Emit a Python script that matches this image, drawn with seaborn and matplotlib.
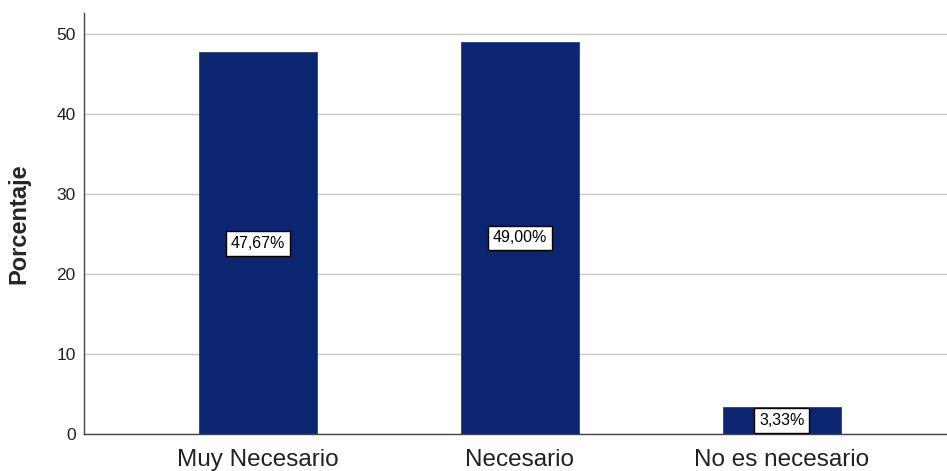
import matplotlib.pyplot as plt
import pandas as pd
import seaborn as sns

# Data
categories = ['Muy Necesario', 'Necesario', 'No es necesario']
percentages = [47.67, 49.00, 3.33]

df = pd.DataFrame({'categoria': categories, 'porcentaje': percentages})

sns.set_theme(style='white')
plt.rcParams['font.family'] = ['Liberation Sans', 'DejaVu Sans']

fig = plt.figure(figsize=(9.47, 4.71), dpi=100)
ax = fig.add_axes([0.0887, 0.0786, 0.9113, 0.8938])

ax.yaxis.grid(True, color='#c8c8c8', linewidth=1)
ax.set_axisbelow(True)

sns.barplot(data=df, x='categoria', y='porcentaje', color='#0b2570',
            saturation=1, width=0.45, edgecolor='#2a3f80', linewidth=0.6,
            ax=ax)

# value labels in the middle of each bar
for i, v in enumerate(percentages):
    txt = f'{v:.2f}'.replace('.', ',') + '%'
    ax.text(i, v / 2, txt, ha='center', va='center', fontsize=11.5,
            color='black',
            bbox=dict(boxstyle='square,pad=0.3', facecolor='white',
                      edgecolor='black', linewidth=1))

ax.set_xlim(-0.664, 2.63)
ax.set_ylim(0, 52.6)
ax.set_yticks([0, 10, 20, 30, 40, 50])
ax.set_xlabel('')
ax.set_ylabel('Porcentaje', fontsize=17, fontweight='bold', labelpad=19)
ax.tick_params(axis='y', labelsize=12.5, length=0, pad=6, colors='#222222')
ax.tick_params(axis='x', labelsize=17.5, length=0, pad=11, colors='#222222')

for side in ['top', 'right']:
    ax.spines[side].set_visible(False)
for side in ['left', 'bottom']:
    ax.spines[side].set_color('#444444')
    ax.spines[side].set_linewidth(1)

fig.savefig('out.png', dpi=100)
